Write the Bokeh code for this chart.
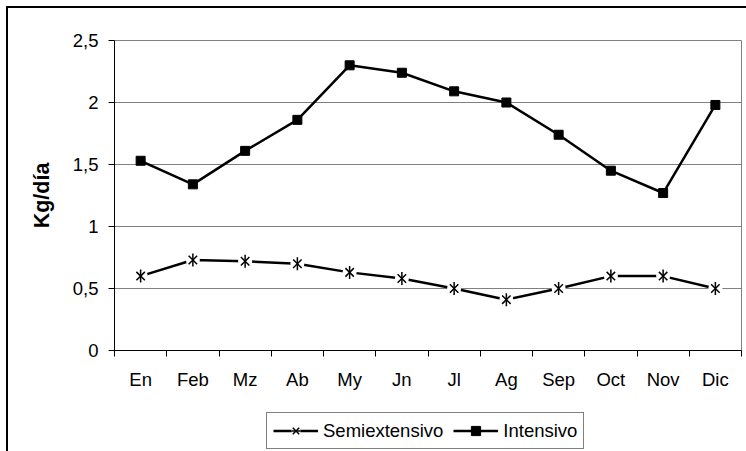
import math
from bokeh.plotting import figure
from bokeh.layouts import column
from bokeh.models import Range1d, FixedTicker, Legend, LegendItem, ColumnDataSource
from bokeh.embed import file_html
from bokeh.resources import INLINE

months = ["En", "Feb", "Mz", "Ab", "My", "Jn", "Jl", "Ag", "Sep", "Oct", "Nov", "Dic"]
semiextensivo = [0.60, 0.73, 0.72, 0.70, 0.63, 0.58, 0.50, 0.41, 0.50, 0.60, 0.60, 0.50]
intensivo = [1.53, 1.34, 1.61, 1.86, 2.30, 2.24, 2.09, 2.00, 1.74, 1.45, 1.27, 1.98]
y_ticks = [0, 0.5, 1, 1.5, 2, 2.5]
y_tick_labels = ["0", "0,5", "1", "1,5", "2", "2,5"]

n = len(months)
xs = [i + 0.5 for i in range(n)]
src = ColumnDataSource(dict(x=xs, semi=semiextensivo, inten=intensivo))

FONT = "Liberation Sans"

p = figure(frame_width=627, frame_height=310, output_backend="svg", toolbar_location=None,
           x_range=Range1d(0, n), y_range=Range1d(y_ticks[0], y_ticks[-1]),
           min_border_left=106, min_border_right=5, min_border_top=32, min_border_bottom=50,
           background_fill_color="white", border_fill_color="white")

p.outline_line_color = "#808080"
p.outline_line_width = 1
p.xgrid.visible = False
p.ygrid.grid_line_color = "#808080"
p.ygrid.grid_line_width = 1
p.ygrid.ticker = FixedTicker(ticks=y_ticks)

# x axis: labels at month centres, ticks at boundaries
xa = p.xaxis[0]
xa.ticker = FixedTicker(ticks=xs, minor_ticks=list(range(n + 1)))
xa.major_label_overrides = {x: m for x, m in zip(xs, months)}
xa.major_tick_line_color = None
xa.major_tick_out = 6
xa.major_tick_in = 0
xa.minor_tick_line_color = "black"
xa.minor_tick_out = 6
xa.minor_tick_in = 0
xa.axis_line_color = "black"
xa.major_label_standoff = 12
xa.major_label_text_font = FONT
xa.major_label_text_font_size = "18.5px"
xa.major_label_text_color = "black"

ya = p.yaxis[0]
ya.ticker = FixedTicker(ticks=y_ticks)
ya.major_label_overrides = {t: l for t, l in zip(y_ticks, y_tick_labels)}
ya.minor_tick_line_color = None
ya.major_tick_out = 6
ya.major_tick_in = 0
ya.major_tick_line_color = "black"
ya.axis_line_color = "black"
ya.major_label_standoff = 10
ya.major_label_text_font = FONT
ya.major_label_text_font_size = "18.5px"
ya.major_label_text_color = "black"
ya.axis_label = "Kg/día"
ya.axis_label_text_font = FONT
ya.axis_label_text_font_size = "21.5px"
ya.axis_label_text_font_style = "bold"
ya.axis_label_text_color = "black"
ya.axis_label_standoff = 16


def draw_series(fig):
    l1 = fig.line("x", "semi", source=src, line_color="black", line_width=2.5)
    g1 = fig.scatter("x", "semi", source=src, marker="circle", size=14,
                     fill_color="white", line_color=None)
    m1a = fig.scatter("x", "semi", source=src, marker="x", size=12,
                      line_color="black", line_width=1.5)
    m1b = fig.scatter("x", "semi", source=src, marker="dash", size=13, angle=math.pi / 2,
                      line_color="black", line_width=1.5)
    l2 = fig.line("x", "inten", source=src, line_color="black", line_width=2.5)
    m2 = fig.scatter("x", "inten", source=src, marker="square", size=9,
                     fill_color="black", line_color="black")
    return [l1, g1, m1a, m1b], [l2, m2]


draw_series(p)

# legend strip below the chart (series glyphs kept out of its visible range)
pl = figure(width=738, height=51, output_backend="svg", toolbar_location=None,
            x_range=Range1d(0, n), y_range=Range1d(100, 101),
            x_axis_location=None, y_axis_location=None,
            min_border_left=0, min_border_right=0, min_border_top=0, min_border_bottom=0,
            background_fill_color="white", border_fill_color="white")
pl.outline_line_color = None
pl.xgrid.visible = False
pl.ygrid.visible = False
semi_r, inten_r = draw_series(pl)

legend = Legend(items=[
    LegendItem(label="Semiextensivo", renderers=semi_r),
    LegendItem(label="Intensivo", renderers=inten_r),
], orientation="horizontal", location=(152, 2))
legend.label_text_font = FONT
legend.label_text_font_size = "18.5px"
legend.label_text_color = "black"
legend.glyph_width = 45
legend.glyph_height = 23
legend.label_height = 23
legend.label_standoff = 5
legend.spacing = 10
legend.padding = 6
legend.margin = 0
legend.border_line_color = "black"
legend.border_line_width = 1
legend.background_fill_color = "white"
legend.background_fill_alpha = 1
pl.add_layout(legend, "center")

layout = column(p, pl, spacing=0,
                styles={"margin-left": "6px", "margin-top": "6px",
                        "border-left": "2px solid black", "border-top": "2px solid black"})

open("out.html", "w").write(file_html(layout, INLINE))
